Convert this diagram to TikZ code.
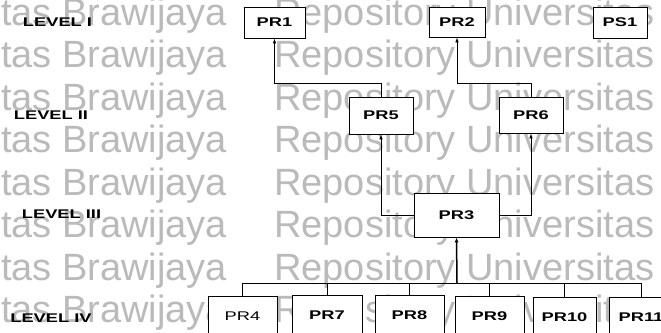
\documentclass[tikz,border=0pt]{standalone}
\usepackage{fontspec}
\setmainfont{Liberation Sans}
\usetikzlibrary{arrows.meta}
\newcommand\stretchtxt[1]{\scalebox{1.45}[1]{#1}}
\tikzset{
  box/.style={draw=black, line width=0.8pt, fill=white, inner sep=0pt,
    font=\fontsize{12.6}{14}\selectfont\bfseries},
  lvl/.style={font=\fontsize{12.6}{14}\selectfont\bfseries, inner sep=0pt},
  wm/.style={text=black!27, font=\fontsize{38}{40}\selectfont, inner sep=0pt, anchor=base west},
  arr/.style={-{Latex[length=5pt,width=3.6pt]}, line width=0.8pt},
  link/.style={line width=0.8pt},
}
\begin{document}
\begin{tikzpicture}[x=1pt,y=-1pt]
\useasboundingbox (0,0) rectangle (661,332);
\clip (0,0) rectangle (661,332);
\fill[white] (0,0) rectangle (661,332);
% watermark
\foreach \i in {0,...,7}{
  \node[wm] (wl\i) at (1,25+42.5*\i) {tas Brawijaya};
  \node[wm] (wr\i) at (274,25+42.5*\i) {Repository Universitas};
}
% level labels
\node[lvl] (l1) at (57.5,22.5) {\stretchtxt{LEVEL I}};
\node[lvl] (l2) at (51,115) {\stretchtxt{LEVEL II}};
\node[lvl] (l3) at (61.5,214) {\stretchtxt{LEVEL III}};
\node[lvl] (l4) at (51,318) {\stretchtxt{LEVEL IV}};
% level I
\node[box, minimum width=61pt, minimum height=31pt] (pr1) at (274.5,22.5) {\stretchtxt{PR1}};
\node[box, minimum width=56pt, minimum height=30pt] (pr2) at (457,22) {\stretchtxt{PR2}};
\node[box, minimum width=54pt, minimum height=31pt] (ps1) at (620,22.5) {\stretchtxt{PS1}};
% level II
\node[box, minimum width=64pt, minimum height=37pt] (pr5) at (381,115.5) {\stretchtxt{PR5}};
\node[box, minimum width=64pt, minimum height=36pt] (pr6) at (531,115) {\stretchtxt{PR6}};
% level III
\node[box, minimum width=85pt, minimum height=44pt] (pr3) at (456.5,215) {\stretchtxt{PR3}};
% level IV
\node[box, minimum width=69pt, minimum height=40pt] (pr4) at (242.5,316) {\stretchtxt{\mdseries PR4}};
\node[box, minimum width=70pt, minimum height=41pt] (pr7) at (327,315.5) {\stretchtxt{PR7}};
\node[box, minimum width=69pt, minimum height=41pt] (pr8) at (409.5,315.5) {\stretchtxt{PR8}};
\node[box, minimum width=69pt, minimum height=40pt] (pr9) at (489.5,316) {\stretchtxt{PR9}};
\node[box, minimum width=63pt, minimum height=40pt] (pr10) at (564.5,317) {\stretchtxt{PR10}};
\node[box, minimum width=64pt, minimum height=40pt] (pr11) at (641,317) {\stretchtxt{PR11}};
% connectors
\coordinate (top) at (0,83);
\coordinate (bus) at (457,283);
\draw[arr] (pr5.north) -- (pr5.north |- top) -| (pr1.south);
\draw[arr] (pr6.north) -- (pr6.north |- top) -| (pr2.south);
\draw[arr] (pr3.west) -| (pr5.south);
\draw[arr] (pr3.east) -| (pr6.south);
\draw[link] (pr4.north) |- (pr11.north |- bus) -- (pr11.north);
\foreach \n in {pr7,pr8,pr9,pr10}{
  \draw[link] (\n.north) -- (\n.north |- bus);
}
\draw[-{Latex[length=5pt,width=4pt]}, line width=1.5pt] (bus) -- (pr3.south);
\end{tikzpicture}
\end{document}
